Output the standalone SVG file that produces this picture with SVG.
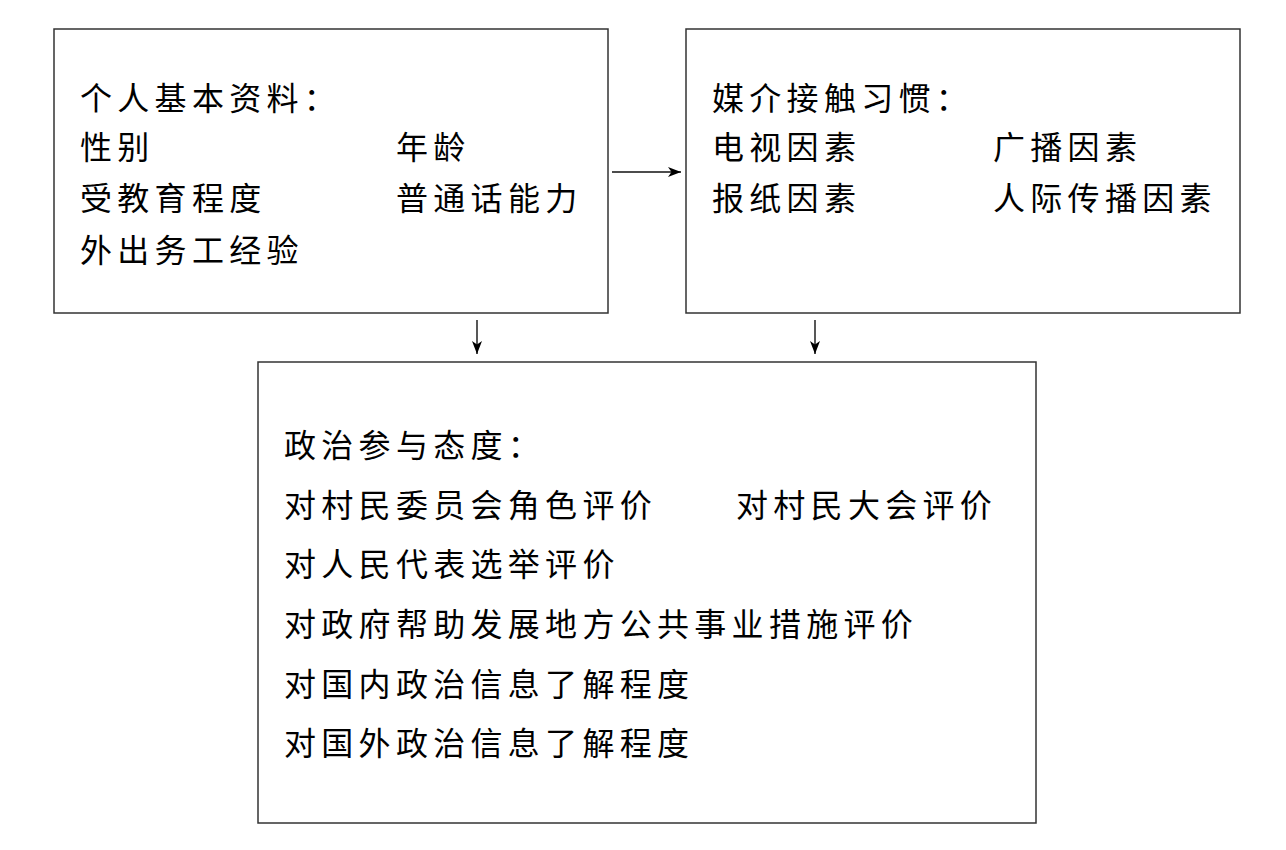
<svg xmlns="http://www.w3.org/2000/svg" width="1286" height="850" viewBox="0 0 1286 850">
<style>
.box{fill:#fff;stroke:#333;stroke-width:1.5}
.t{font-family:"Noto Sans CJK SC","Noto Sans CJK JP",sans-serif;font-size:32px;letter-spacing:5.3px;fill:#000}
.c{stroke:#111;stroke-width:1.4;fill:none}
</style>
<defs>
<marker id="ah" markerWidth="14" markerHeight="12" refX="13" refY="6" orient="auto" markerUnits="userSpaceOnUse">
<path d="M0,1 L13,6 L0,11 L3.5,6 Z" fill="#000"/>
</marker>
</defs>
<rect width="1286" height="850" fill="#fff"/>
<g id="node-personal">
<rect class="box" x="54" y="29" width="554" height="284"/>
<text class="t" x="80" y="110">个人基本资料：</text>
<text class="t" x="80" y="159">性别</text>
<text class="t" x="396" y="159">年龄</text>
<text class="t" x="80" y="210">受教育程度</text>
<text class="t" x="396" y="210">普通话能力</text>
<text class="t" x="80" y="262">外出务工经验</text>
</g>
<g id="node-media">
<rect class="box" x="686" y="29" width="554" height="284"/>
<text class="t" x="712" y="110">媒介接触习惯：</text>
<text class="t" x="712" y="159">电视因素</text>
<text class="t" x="993" y="159">广播因素</text>
<text class="t" x="712" y="210">报纸因素</text>
<text class="t" x="993" y="210">人际传播因素</text>
</g>
<g id="node-politics">
<rect class="box" x="258" y="362" width="778" height="461"/>
<text class="t" x="284" y="457">政治参与态度：</text>
<text class="t" x="284" y="517">对村民委员会角色评价</text>
<text class="t" x="736" y="517">对村民大会评价</text>
<text class="t" x="284" y="576">对人民代表选举评价</text>
<text class="t" x="284" y="636">对政府帮助发展地方公共事业措施评价</text>
<text class="t" x="284" y="696">对国内政治信息了解程度</text>
<text class="t" x="284" y="755">对国外政治信息了解程度</text>
</g>
<g id="connectors">
<line class="c" x1="612" y1="172" x2="681" y2="172" marker-end="url(#ah)"/>
<line class="c" x1="477" y1="320" x2="477" y2="354" marker-end="url(#ah)"/>
<line class="c" x1="815" y1="320" x2="815" y2="354" marker-end="url(#ah)"/>
</g>
</svg>
